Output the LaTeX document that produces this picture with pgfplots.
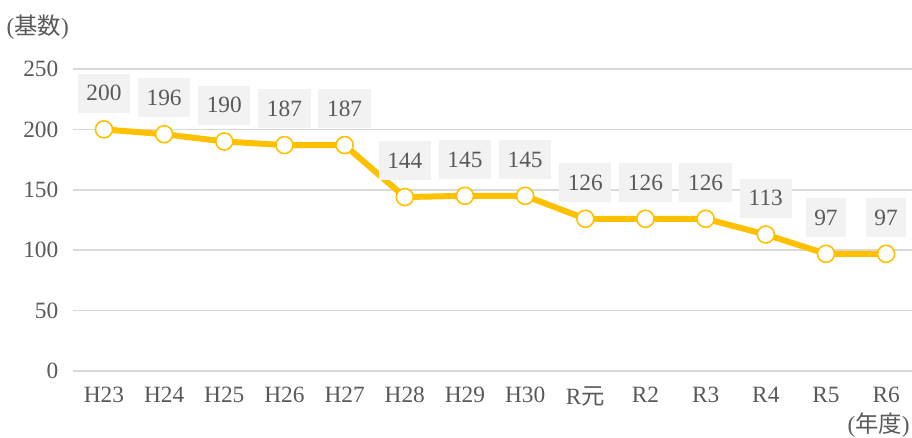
\documentclass[border=0pt]{standalone}
\usepackage{pgfplots}
\pgfplotsset{compat=1.18}
\usepackage{fontspec}
\setmainfont{Liberation Serif}
\newfontfamily\jp{Noto Sans CJK JP}
\definecolor{gold}{HTML}{FFC000}
\definecolor{txt}{HTML}{595959}
\definecolor{gridc}{HTML}{D9D9D9}
\definecolor{boxc}{HTML}{F2F2F2}
\begin{document}
\begin{tikzpicture}
\begin{axis}[
  scale only axis, width=629.25pt, height=226.5pt,
  xmin=-0.515, xmax=13.43, ymin=0, ymax=250,
  axis line style={draw=none}, tick style={draw=none},
  ytick={0,50,...,250}, ymajorgrids,
  grid style={gridc, line width=1.1pt},
  xtick={0,...,13},
  xticklabels={H23,H24,H25,H26,H27,H28,H29,H30,R{\jp 元},R2,R3,R4,R5,R6},
  ticklabel style={font=\fontsize{17.5}{21}\selectfont, text=txt},
  /pgf/number format/assume math mode=true,
  yticklabel style={xshift=-7.5pt},
  xticklabel style={yshift=-8.5pt},
  clip=false,
  nodes near coords,
  nodes near coords style={anchor=south, yshift=12pt, fill=boxc, text=txt,
    font=\fontsize{17.5}{21}\selectfont, minimum height=29.25pt,
    inner xsep=6.5pt, inner ysep=0pt},
]
\coordinate (ll) at (rel axis cs:0,0);
\addplot[gold, line width=4.5pt, line join=round, mark=*, mark size=6.4pt,
  mark options={fill=white, draw=gold, line width=1.2pt}]
  coordinates {(0,200)(1,196)(2,190)(3,187)(4,187)(5,144)(6,145)(7,145)(8,126)(9,126)(10,126)(11,113)(12,97)(13,97)};
\end{axis}
\node[anchor=west, text=txt, font=\fontsize{17.5}{21}\selectfont, inner sep=0pt] at ([xshift=-50pt, yshift=258pt]ll) {({\jp 基数})};
\node[anchor=east, text=txt, font=\fontsize{17.5}{21}\selectfont, inner sep=0pt] at ([xshift=627.75pt, yshift=-40.5pt]ll) {({\jp 年度})};
\pgfresetboundingbox
\path[use as bounding box] ([xshift=-54.75pt, yshift=-50.25pt]ll) rectangle ([xshift=629.25pt, yshift=278.25pt]ll);
\end{tikzpicture}
\end{document}
